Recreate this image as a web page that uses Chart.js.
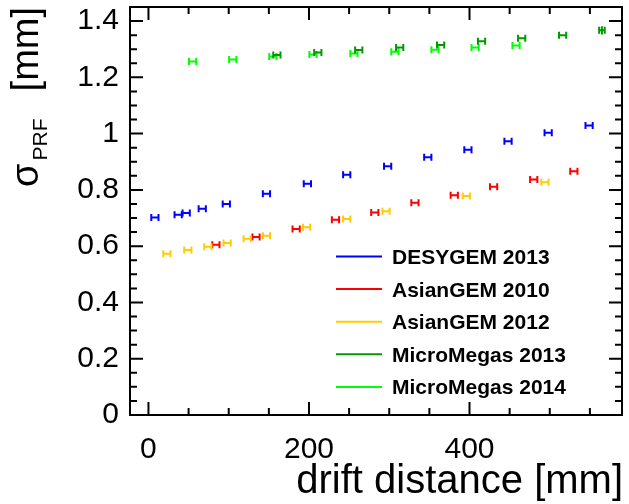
<!DOCTYPE html>
<html>
<head>
<meta charset="utf-8">
<script src="https://cdn.jsdelivr.net/npm/chart.js@4.4.0/dist/chart.umd.min.js"></script>
<style>
html, body { margin: 0; padding: 0; background: #fff; }
</style>
</head>
<body>
<canvas id="prfChart" width="629" height="504"></canvas>
<script>
// series names and colours
const seriesNames = ['DESYGEM 2013', 'AsianGEM 2010', 'AsianGEM 2012', 'MicroMegas 2013', 'MicroMegas 2014'];
const seriesColors = ['#0000ff', '#ff0000', '#ffcc00', '#009900', '#00ff00'];

// DESYGEM 2013
const desyX = [8, 37, 47, 67, 97, 147, 198, 247, 298, 348, 398, 448, 498, 549];
const desyY = [0.702, 0.712, 0.718, 0.733, 0.750, 0.786, 0.822, 0.854, 0.884, 0.916, 0.943, 0.973, 1.003, 1.029];

// AsianGEM 2010
const asian10X = [84, 134, 184, 233, 282, 332, 381, 430, 480, 530];
const asian10Y = [0.605, 0.633, 0.661, 0.694, 0.720, 0.754, 0.781, 0.811, 0.837, 0.866];

// AsianGEM 2012
const asian12X = [23, 49, 74, 98, 123, 147, 197, 247, 296, 396, 494];
const asian12Y = [0.573, 0.586, 0.598, 0.611, 0.626, 0.637, 0.667, 0.697, 0.724, 0.778, 0.827];

// MicroMegas 2013
const mm13X = [160, 211, 262, 313, 364, 415, 465, 516, 565];
const mm13Y = [1.279, 1.288, 1.297, 1.306, 1.315, 1.328, 1.339, 1.350, 1.367];
const mm13XErr = [4.5, 4.5, 4.5, 4.5, 4.5, 4.5, 4.5, 4.5, 3.5];
const mm13YErr = [0, 0, 0, 0, 0, 0, 0, 0, 0.015];

// MicroMegas 2014
const mm14X = [55, 105, 155, 205, 256, 307, 357, 407, 458];
const mm14Y = [1.256, 1.263, 1.274, 1.281, 1.285, 1.291, 1.298, 1.306, 1.313];

const defaultXErr = 4.5;

// axis ticks
const xTickValues = [0, 200, 400];
const yTickValues = [0, 0.2, 0.4, 0.6, 0.8, 1, 1.2, 1.4];

const fontFamily = "'Liberation Sans', Arial, Helvetica, sans-serif";

function makePoints(xs, ys, xe, ye) {
    return xs.map((x, i) => ({
        x: x,
        y: ys[i],
        xErr: xe ? xe[i] : defaultXErr,
        yErr: ye ? ye[i] : 0
    }));
}

const seriesPoints = [
    makePoints(desyX, desyY),
    makePoints(asian10X, asian10Y),
    makePoints(asian12X, asian12Y),
    makePoints(mm13X, mm13Y, mm13XErr, mm13YErr),
    makePoints(mm14X, mm14Y)
];
// draw order: 2014 first, 2013 on top
const drawOrder = [0, 1, 2, 4, 3];

const datasets = seriesNames.map((name, i) => ({
    label: name,
    data: seriesPoints[i],
    borderColor: seriesColors[i],
    backgroundColor: seriesColors[i],
    pointRadius: 0,
    showLine: false
}));

// horizontal error bars with end caps
const errorBars = {
    id: 'errorBars',
    afterDatasetsDraw(chart) {
        const ctx = chart.ctx;
        const xs = chart.scales.x, ys = chart.scales.y;
        ctx.save();
        ctx.lineWidth = 2;
        drawOrder.forEach(i => {
            const ds = chart.data.datasets[i];
            ctx.strokeStyle = ds.borderColor;
            ds.data.forEach(p => {
                const x0 = xs.getPixelForValue(p.x - p.xErr);
                const x1 = xs.getPixelForValue(p.x + p.xErr);
                const yc = ys.getPixelForValue(p.y);
                const xc = xs.getPixelForValue(p.x);
                ctx.beginPath();
                ctx.moveTo(x0, yc); ctx.lineTo(x1, yc);
                ctx.moveTo(x0, yc - 3.5); ctx.lineTo(x0, yc + 3.5);
                ctx.moveTo(x1, yc - 3.5); ctx.lineTo(x1, yc + 3.5);
                if (p.yErr > 0) {
                    ctx.moveTo(xc, ys.getPixelForValue(p.y - p.yErr));
                    ctx.lineTo(xc, ys.getPixelForValue(p.y + p.yErr));
                }
                ctx.stroke();
            });
        });
        ctx.restore();
    }
};

// ROOT style frame, inward ticks on all sides, titles and legend
const rootFrame = {
    id: 'rootFrame',
    afterDraw(chart) {
        const ctx = chart.ctx;
        const a = chart.chartArea;
        const xs = chart.scales.x, ys = chart.scales.y;
        ctx.save();
        ctx.strokeStyle = '#000';
        ctx.lineWidth = 2;
        ctx.strokeRect(a.left, a.top, a.right - a.left, a.bottom - a.top);

        ctx.beginPath();
        for (let v = 0; v <= xs.max; v += 50) {
            const px = xs.getPixelForValue(v);
            const len = (v % 200 === 0) ? 13 : 7;
            ctx.moveTo(px, a.bottom); ctx.lineTo(px, a.bottom - len);
            ctx.moveTo(px, a.top); ctx.lineTo(px, a.top + len);
        }
        for (let k = 0; k * 0.05 <= ys.max + 1e-9; k++) {
            const py = ys.getPixelForValue(k * 0.05);
            const len = (k % 4 === 0) ? 13 : 7;
            ctx.moveTo(a.left, py); ctx.lineTo(a.left + len, py);
            ctx.moveTo(a.right, py); ctx.lineTo(a.right - len, py);
        }
        ctx.stroke();

        // x title
        ctx.fillStyle = '#000';
        ctx.font = '40px ' + fontFamily;
        ctx.textAlign = 'right';
        ctx.textBaseline = 'alphabetic';
        ctx.fillText('drift distance [mm]', 623, 493);

        // y title, rotated, with subscript
        ctx.save();
        ctx.translate(38, 187);
        ctx.rotate(-Math.PI / 2);
        ctx.textAlign = 'left';
        ctx.font = '38px ' + fontFamily;
        ctx.fillText('σ', 0, 0);
        const sw = ctx.measureText('σ').width;
        ctx.font = '21px ' + fontFamily;
        ctx.fillText('PRF', sw + 3, 9);
        ctx.font = '38px ' + fontFamily;
        ctx.textAlign = 'right';
        ctx.fillText('[mm]', 180, 0);
        ctx.restore();

        // legend
        ctx.font = 'bold 21px ' + fontFamily;
        ctx.textAlign = 'left';
        chart.data.datasets.forEach((ds, i) => {
            const yl = 256.5 + i * 32.6;
            ctx.strokeStyle = ds.borderColor;
            ctx.lineWidth = 2;
            ctx.beginPath();
            ctx.moveTo(336, yl); ctx.lineTo(382, yl);
            ctx.stroke();
            ctx.fillStyle = '#000';
            ctx.fillText(ds.label, 392, yl + 7.5);
        });
        ctx.restore();
    }
};

function noPadding(s) {
    s.paddingTop = 0;
    s.paddingBottom = 0;
    s.paddingLeft = 0;
    s.paddingRight = 0;
}

const chart = new Chart(document.getElementById('prfChart').getContext('2d'), {
    type: 'scatter',
    data: { datasets: datasets },
    options: {
        responsive: false,
        animation: false,
        events: [],
        layout: { padding: { top: 7, right: 7, left: 0, bottom: 0 } },
        plugins: {
            legend: { display: false },
            tooltip: { enabled: false }
        },
        scales: {
            x: {
                type: 'linear',
                min: -23,
                max: 590,
                grid: { display: false, drawTicks: false },
                border: { display: false },
                afterBuildTicks: s => { s.ticks = xTickValues.map(v => ({ value: v })); },
                afterFit: s => { s.height = 89; noPadding(s); },
                ticks: {
                    autoSkip: false,
                    maxRotation: 0,
                    padding: 17,
                    color: '#000',
                    font: { family: fontFamily, size: 30 },
                    callback: v => String(v)
                }
            },
            y: {
                type: 'linear',
                min: 0,
                max: 1.45,
                grid: { display: false, drawTicks: false },
                border: { display: false },
                afterBuildTicks: s => { s.ticks = yTickValues.map(v => ({ value: v })); },
                afterFit: s => { s.width = 130; noPadding(s); },
                ticks: {
                    autoSkip: false,
                    padding: 11,
                    color: '#000',
                    font: { family: fontFamily, size: 30 },
                    callback: v => String(parseFloat(v.toFixed(1)))
                }
            }
        }
    },
    plugins: [errorBars, rootFrame]
});
</script>
</body>
</html>
